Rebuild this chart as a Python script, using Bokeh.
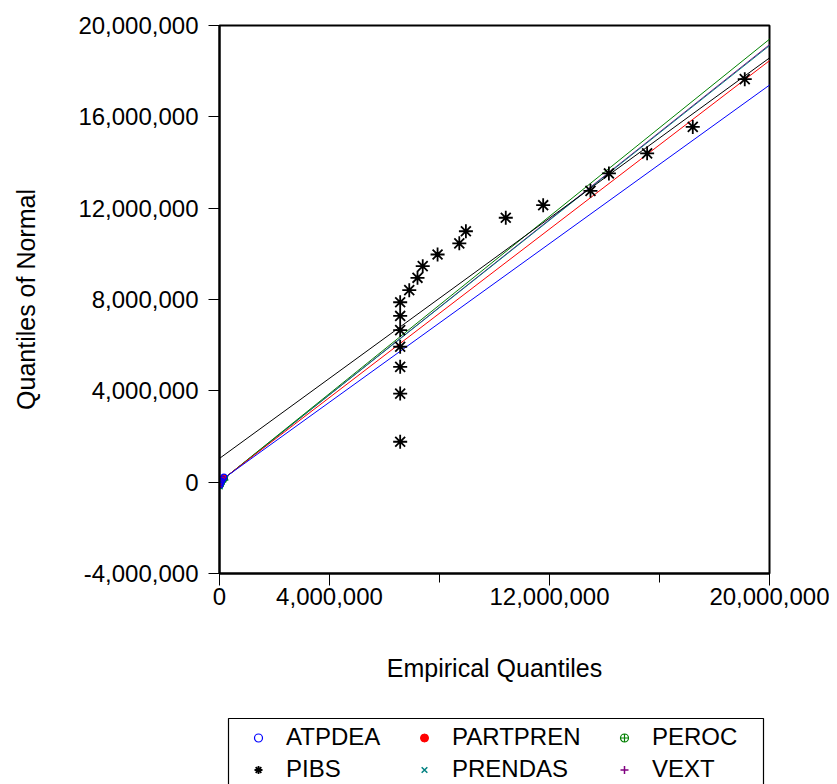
from bokeh.plotting import figure
from bokeh.layouts import column
from bokeh.models import FixedTicker, NumeralTickFormatter, Legend, LegendItem, Slope, BoxAnnotation
from bokeh.embed import file_html
from bokeh.resources import INLINE

# ---- data (empirical quantiles on x, quantiles of normal on y) ----
pibs_emp = [6.57e6, 6.57e6, 6.57e6, 6.57e6, 6.57e6, 6.57e6, 6.57e6, 6.90e6, 7.20e6, 7.39e6,
            7.93e6, 8.72e6, 8.96e6, 10.41e6, 11.77e6, 13.49e6, 14.16e6, 15.55e6, 17.21e6, 19.10e6]
pibs_norm = [1.77e6, 3.88e6, 5.05e6, 5.93e6, 6.66e6, 7.28e6, 7.88e6, 8.41e6, 8.95e6, 9.46e6,
             9.97e6, 10.46e6, 10.99e6, 11.58e6, 12.13e6, 12.76e6, 13.52e6, 14.40e6, 15.56e6, 17.65e6]

atpdea_emp = [15000, 40000, 70000, 110000, 160000]
atpdea_norm = [-120000, -30000, 50000, 130000, 220000]
partpren_emp = [10000, 30000, 60000, 90000, 140000]
partpren_norm = [-100000, -20000, 40000, 110000, 190000]
peroc_emp = [20000, 50000, 80000, 120000, 180000]
peroc_norm = [-140000, -50000, 30000, 100000, 170000]
prendas_emp = [25000, 60000, 100000, 150000, 230000]
prendas_norm = [-200000, -90000, 0, 90000, 180000]
vext_emp = [5000, 25000, 45000, 80000, 120000]
vext_norm = [-80000, -10000, 60000, 120000, 160000]

# reference lines (normal fit) per series
line_names = ["VEXT", "PRENDAS", "PEROC", "PARTPREN", "PIBS", "ATPDEA"]
line_slopes = [0.958, 0.956, 0.970, 0.922, 0.877, 0.868]
line_intercepts = [0.0, 0.0, 0.0, 0.02e6, 1.04e6, 0.03e6]

x_ticks = [0, 4e6, 12e6, 20e6]
x_minor_ticks = [8e6, 16e6]
y_ticks = [-4e6, 0, 4e6, 8e6, 12e6, 16e6, 20e6]

series = {
    "ATPDEA": (atpdea_emp, atpdea_norm),
    "PARTPREN": (partpren_emp, partpren_norm),
    "PEROC": (peroc_emp, peroc_norm),
    "PIBS": (pibs_emp, pibs_norm),
    "PRENDAS": (prendas_emp, prendas_norm),
    "VEXT": (vext_emp, vext_norm),
}
legend_columns = [["ATPDEA", "PIBS"], ["PARTPREN", "PRENDAS"], ["PEROC", "VEXT"]]

colors = {"ATPDEA": "#0000FF", "PARTPREN": "#FF0000", "PEROC": "#008000",
          "PIBS": "#000000", "PRENDAS": "#008080", "VEXT": "#800080"}

styles = {
    "ATPDEA": dict(marker="circle", size=6, line_color=colors["ATPDEA"], fill_color=None, line_width=1.2),
    "PARTPREN": dict(marker="circle", size=6, line_color=colors["PARTPREN"], fill_color=colors["PARTPREN"]),
    "PEROC": dict(marker="circle_cross", size=6, line_color=colors["PEROC"], fill_color=None, line_width=1.2),
    "PIBS": dict(marker="asterisk", size=14, line_color=colors["PIBS"], line_width=1.8),
    "PRENDAS": dict(marker="x", size=7, line_color=colors["PRENDAS"], line_width=1.5),
    "VEXT": dict(marker="cross", size=8, line_color=colors["VEXT"], line_width=1.5),
}
draw_order = ["PIBS", "PRENDAS", "VEXT", "PEROC", "PARTPREN", "ATPDEA"]

FONT = "Liberation Sans"

p = figure(frame_width=550, frame_height=548,
           x_range=(0, 20e6), y_range=(-4e6, 20e6),
           min_border_left=219, min_border_top=25, min_border_right=60, min_border_bottom=127,
           output_backend="svg", toolbar_location=None)

p.xgrid.visible = False
p.ygrid.visible = False
p.outline_line_color = "black"
p.outline_line_width = 2
p.background_fill_color = "white"
p.border_fill_color = "white"

for name, s, b in zip(line_names, line_slopes, line_intercepts):
    p.add_layout(Slope(gradient=s, y_intercept=b, line_color=colors[name], line_width=1,
                       level="underlay"))

for name in draw_order:
    xs, ys = series[name]
    p.scatter(xs, ys, **styles[name])

# axes
p.xaxis.ticker = FixedTicker(ticks=x_ticks, minor_ticks=x_minor_ticks)
p.yaxis.ticker = FixedTicker(ticks=y_ticks, minor_ticks=[])
p.xaxis.formatter = NumeralTickFormatter(format="0,0")
p.yaxis.formatter = NumeralTickFormatter(format="0,0")
p.xaxis.axis_label = "Empirical Quantiles"
p.yaxis.axis_label = "Quantiles of Normal"

for ax in (p.xaxis[0], p.yaxis[0]):
    ax.axis_line_color = "black"
    ax.axis_line_width = 2
    ax.major_tick_line_color = "black"
    ax.minor_tick_line_color = "black"
    ax.major_tick_in = 0
    ax.minor_tick_in = 0
    ax.major_label_text_font = FONT
    ax.major_label_text_font_size = "24px"
    ax.major_label_text_color = "black"
    ax.axis_label_text_font = FONT
    ax.axis_label_text_font_size = "25px"
    ax.axis_label_text_font_style = "normal"
    ax.axis_label_text_color = "black"

p.xaxis.major_tick_out = 12
p.xaxis.minor_tick_out = 9
p.xaxis.major_label_standoff = 2
p.xaxis.axis_label_standoff = 46
p.yaxis.major_tick_out = 11
p.yaxis.minor_tick_out = 0
p.yaxis.major_label_standoff = 10
p.yaxis.axis_label_standoff = 35

# ---- legend strip below the chart (pixel-unit ranges) ----
LW, LH = 550, 68
lg = figure(frame_width=LW, frame_height=LH, x_range=(0, LW), y_range=(0, LH),
            min_border_left=219, min_border_top=16, min_border_right=60, min_border_bottom=0,
            x_axis_type=None, y_axis_type=None,
            output_backend="svg", toolbar_location=None)
lg.outline_line_color = None
lg.xgrid.visible = False
lg.ygrid.visible = False
lg.border_fill_color = "white"

# legend proxies: same series data, which lies outside this strip's ranges
rend = {}
for name in draw_order:
    xs, ys = series[name]
    rend[name] = lg.scatter(xs, ys, **styles[name])

lg.add_layout(BoxAnnotation(left=9, right=544, top=66, bottom=-4,
                            fill_alpha=0, line_color="black", line_width=1.2,
                            line_alpha=1))

common = dict(orientation="vertical", padding=6, spacing=4, margin=0,
              glyph_width=20, glyph_height=27, label_height=27, label_standoff=18,
              label_text_font=FONT, label_text_font_size="24px", label_text_color="black",
              border_line_color=None, background_fill_alpha=0.0)

col_x = [29, 195, 395]
for cx, names in zip(col_x, legend_columns):
    leg = Legend(items=[LegendItem(label=n, renderers=[rend[n]]) for n in names],
                 location=(cx, 1), **common)
    lg.add_layout(leg, "center")

layout = column(p, lg, spacing=0)
open("out.html", "w").write(file_html(layout, INLINE))
